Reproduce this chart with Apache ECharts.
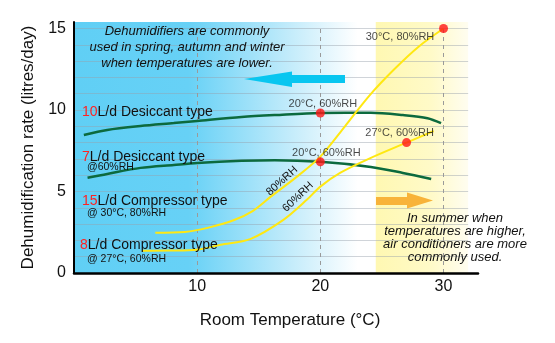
<!DOCTYPE html>
<html>
<head>
<meta charset="utf-8">
<script src="https://cdn.jsdelivr.net/npm/echarts@6/dist/echarts.min.js"></script>
<style>
  html, body { margin: 0; padding: 0; background: #ffffff; }
  #chart { width: 555px; height: 343px; }
</style>
</head>
<body>
<div id="chart"></div>
<script>
// Axis ticks
const xTickValues = [10, 20, 30];
const yTickValues = [0, 5, 10, 15];
const gridLevels = [1, 2, 3, 4, 5, 6, 7, 8, 9, 10, 11, 12, 13, 14, 15];

// Dehumidification rate (litres/day) against room temperature (°C)
const desiccant10 = [[0.8, 8.47], [2.7, 8.78], [5.4, 9.02], [8.1, 9.2], [10, 9.33], [13.6, 9.57], [16.3, 9.69], [20, 9.82], [24.1, 9.83], [26.7, 9.69], [28.7, 9.5], [29.8, 9.2]];
const desiccant7 = [[1.1, 5.84], [2.7, 6.08], [5.4, 6.45], [8.1, 6.63], [10, 6.75], [13.6, 6.88], [16.3, 6.92], [20, 6.82], [24.1, 6.51], [26.7, 6.14], [29, 5.77]];
const compressor15 = [[6.6, 2.47], [9, 2.52], [11, 2.8], [13, 3.25], [14.5, 3.8], [16, 4.7], [18, 5.85], [20, 7.14], [22, 9.0], [24, 10.9], [26, 12.5], [28, 13.9], [30, 15]];
const compressor8 = [[5.5, 1.37], [7.8, 1.38], [10, 1.43], [11.9, 1.73], [14.3, 2.08], [17, 3.26], [18.9, 4.49], [20, 5.3], [21.6, 6.14], [24.1, 7.06], [27, 8.0], [29.2, 8.71]];

// Rated conditions
const ratedPoints = [[20, 9.82], [20, 6.82], [30, 15], [27, 8]];
const ratedLabels = ['20°C, 60%RH', '20°C, 60%RH', '30°C, 80%RH', '27°C, 60%RH'];
const ratedLabelOffsets = [[2.5, -9], [6, -9], [-43.5, 8], [-7, -10]];

// Seasonal bands (°C)
const coolSeason = [0, 24.5];
const warmSeason = [24.5, 32];

const FONT = '"Liberation Sans", Arial, Helvetica, sans-serif';
const chart = echarts.init(document.getElementById('chart'), null, { renderer: 'canvas' });

const labelText = (x, y, text, size, extra) => Object.assign({
  type: 'text', x: x, y: y, z: 20,
  style: Object.assign({
    text: text, fontSize: size, fontFamily: FONT, fill: '#111',
    align: 'left', verticalAlign: 'middle',
    rich: { r: { fill: '#ff2222', fontSize: size, fontFamily: FONT } }
  }, extra || {})
}, {});

const option = {
  animation: false,
  backgroundColor: '#ffffff',
  grid: { left: 74, right: 77, top: 22, bottom: 70, containLabel: false },
  xAxis: {
    type: 'value', min: 0, max: 32.8, interval: 10, z: 10,
    axisLine: { show: true, onZero: false, lineStyle: { color: '#000', width: 2.5 } },
    axisTick: { show: false },
    splitLine: { show: false },
    axisLabel: {
      margin: 6, fontSize: 16, fontFamily: FONT, color: '#111',
      formatter: v => (xTickValues.indexOf(v) >= 0 ? String(v) : '')
    },
    name: 'Room Temperature (°C)', nameLocation: 'middle', nameGap: 39,
    nameTextStyle: { fontSize: 17, fontFamily: FONT, color: '#111', padding: [0, 0, 0, 28] }
  },
  yAxis: {
    type: 'value', min: 0, max: 15.4, interval: 5, z: 10,
    axisLine: { show: true, lineStyle: { color: '#000', width: 2 } },
    axisTick: { show: false },
    splitLine: { show: false },
    axisLabel: {
      margin: 8, fontSize: 16, fontFamily: FONT, color: '#111',
      formatter: v => (yTickValues.indexOf(v) >= 0 ? String(v) : '')
    },
    name: 'Dehumidification rate (litres/day)', nameLocation: 'middle', nameGap: 37,
    nameTextStyle: { fontSize: 17, fontFamily: FONT, color: '#111' }
  },
  series: [
    {
      // seasonal background bands
      type: 'line', data: [], z: 0, silent: true,
      markArea: {
        silent: true,
        label: { show: false },
        data: [
          [{ coord: [coolSeason[0], 15.4], itemStyle: { color: new echarts.graphic.LinearGradient(0, 0, 1, 0, [
              { offset: 0, color: '#60cff5' },
              { offset: 0.38, color: '#67d1f6' },
              { offset: 0.72, color: '#c4ecfb' },
              { offset: 0.94, color: '#ffffff' },
              { offset: 1, color: '#ffffff' }]) } },
           { coord: [coolSeason[1], 0] }],
          [{ coord: [warmSeason[0], 15.4], itemStyle: { color: new echarts.graphic.LinearGradient(0, 0, 1, 0, [
              { offset: 0, color: '#fff8b2' },
              { offset: 0.6, color: '#fffac8' },
              { offset: 1, color: '#fffdf0' }]) } },
           { coord: [warmSeason[1], 0] }]
        ]
      }
    },
    {
      // horizontal grid and dashed temperature guides
      type: 'line', data: [], z: 1, silent: true,
      markLine: {
        silent: true, symbol: 'none', label: { show: false },
        data: gridLevels.map(v => [
          { coord: [0, v], lineStyle: { color: 'rgba(150,160,170,0.45)', width: 1, type: 'solid' } },
          { coord: [warmSeason[1], v] }
        ]).concat(xTickValues.map(v => [
          { coord: [v, 0], lineStyle: { color: '#9a9a9a', width: 1, type: [4, 4] } },
          { coord: [v, 15] }
        ]))
      }
    },
    {
      name: '10L/d Desiccant type', type: 'line', data: desiccant10, smooth: 0.3,
      showSymbol: false, z: 5, silent: true,
      lineStyle: { color: '#0c6a3e', width: 2.5 }
    },
    {
      name: '7L/d Desiccant type', type: 'line', data: desiccant7, smooth: 0.3,
      showSymbol: false, z: 5, silent: true,
      lineStyle: { color: '#0c6a3e', width: 2.5 }
    },
    {
      name: '15L/d Compressor type', type: 'line', data: compressor15, smooth: 0.3,
      showSymbol: false, z: 5, silent: true,
      lineStyle: { color: '#ffe812', width: 2 }
    },
    {
      name: '8L/d Compressor type', type: 'line', data: compressor8, smooth: 0.3,
      showSymbol: false, z: 5, silent: true,
      lineStyle: { color: '#ffe812', width: 2 }
    },
    {
      name: 'Rated conditions', type: 'scatter', z: 6, silent: true,
      symbol: 'circle', symbolSize: 9,
      itemStyle: { color: '#ff1515' },
      data: ratedPoints.map((p, i) => ({
        value: p,
        label: {
          show: true, position: 'inside', offset: ratedLabelOffsets[i],
          formatter: ratedLabels[i], fontSize: 11, fontFamily: FONT, color: '#1a1a1a'
        }
      }))
    }
  ],
  graphic: [
    // season arrows
    { type: 'polygon', z: 8, shape: { points: [[244, 79], [292, 71.5], [292, 75], [345, 75], [345, 83], [292, 83], [292, 87]] },
      style: { fill: '#08c6f0' } },
    { type: 'polygon', z: 8, shape: { points: [[376, 197], [407, 197], [407, 192.5], [433, 200.5], [407, 208.5], [407, 205], [376, 205]] },
      style: { fill: '#f8b33a' } },
    // season notes
    labelText(187, 47, 'Dehumidifiers are commonly\nused in spring, autumn and winter\nwhen temperatures are lower.', 13,
      { fontStyle: 'italic', align: 'center', lineHeight: 16 }),
    labelText(455, 237.5, 'In summer when\ntemperatures are higher,\nair conditioners are more\ncommonly used.', 13,
      { fontStyle: 'italic', align: 'center', lineHeight: 13 }),
    // series names
    labelText(82, 112, '{r|10}L/d Desiccant type', 14),
    labelText(82, 157, '{r|7}L/d Desiccant type', 14),
    labelText(87, 167.5, '@60%RH', 10.5),
    labelText(82, 201, '{r|15}L/d Compressor type', 14),
    labelText(87, 213, '@ 30°C, 80%RH', 10.5),
    labelText(80, 245, '{r|8}L/d Compressor type', 14),
    labelText(87, 259, '@ 27°C, 60%RH', 10.5),
    // humidity tags along the compressor curves
    Object.assign(labelText(282, 181, '80%RH', 11, { align: 'center' }), { rotation: 0.74 }),
    Object.assign(labelText(298, 197, '60%RH', 11, { align: 'center' }), { rotation: 0.76 })
  ]
};

chart.setOption(option);
</script>
</body>
</html>
